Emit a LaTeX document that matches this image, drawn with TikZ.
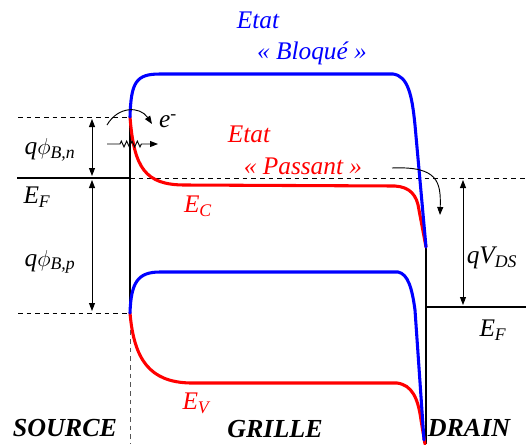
\documentclass[tikz,border=0pt]{standalone}
\usepackage{fontspec}
\setmainfont{Liberation Serif}
\usetikzlibrary{arrows.meta,decorations.pathmorphing}
\definecolor{band-blue}{HTML}{0000FF}
\definecolor{band-red}{HTML}{FF0000}
\definecolor{guide-grey}{HTML}{555555}

\begin{document}
\begin{tikzpicture}[x=0.75pt, y=-0.75pt,
    band/.style={line width=2.3pt, line cap=round},
    level/.style={line width=2.2pt},
    guide/.style={dash pattern=on 3.5pt off 3pt, line width=0.7pt},
    tip/.style={-{Triangle[length=6pt,width=4.5pt]}, line width=0.7pt},
    span/.style={{Triangle[length=6pt,width=4.5pt]}-{Triangle[length=6pt,width=4.5pt]}, line width=0.7pt},
    lbl/.style={font=\fontsize{19}{22}\selectfont\itshape},
    region/.style={font=\fontsize{19.5}{22}\selectfont\bfseries\itshape}]
  \useasboundingbox (0,0) rectangle (526,444);
  % key points of the junctions
  \coordinate (top) at (130,117);
  \coordinate (fermi) at (130,178);
  \coordinate (bot) at (130,313);
  \coordinate (dtop) at (426,247);
  \coordinate (dfermi) at (426,307);
  \coordinate (dbot) at (426,444);

  % guide lines
  \draw[guide] (18,117) -- (top);
  \draw[guide] (18,313) -- (bot);
  \draw[guide] (fermi) -- (526,178);
  \draw[guide, guide-grey] (bot) -- (130,444);

  % Fermi levels and metal walls
  \draw[level] (17,178) -- (fermi);
  \draw[level] (dfermi) -- (526,307);
  \draw[level] (top) -- (bot);
  \draw[level] (dtop) -- (dbot);

  % Etat Passant
  \draw[band, band-red] (top) .. controls (134,168) and (145,185) .. (185,185)
    -- (395,186) .. controls (410,187) and (417,195) .. (419,210) -- (dtop);
  \draw[band, band-red] (bot) .. controls (134,360) and (150,382) .. (190,383)
    -- (397,383) .. controls (412,385) and (418,398) .. (421,420) -- (425,444);
  % Etat Bloque
  \draw[band, band-blue] (top) .. controls (131,82) and (136,74) .. (160,74)
    -- (393,74) .. controls (408,76) and (412,95) .. (415,125) -- (dtop);
  \draw[band, band-blue] (bot) .. controls (131,282) and (138,272) .. (160,272)
    -- (398,272) .. controls (408,274) and (412,288) .. (415,310) -- (424,440);

  % barrier heights
  \coordinate (phin1) at (92,119);
  \coordinate (phin2) at (92,176);
  \coordinate (phip1) at (92,180);
  \coordinate (phip2) at (92,311);
  \coordinate (vds1) at (463,180);
  \coordinate (vds2) at (463,305);
  \draw[span] (phin1) -- (phin2);
  \draw[span] (phip1) -- (phip2);
  \draw[span] (vds1) -- (vds2);

  % electron paths
  \coordinate (th1) at (107,125);
  \coordinate (th2) at (152,124);
  \draw[tip] (th1) .. controls (118,106) and (140,106) .. (th2);
  \coordinate (tu1) at (107,144);
  \coordinate (tu2) at (120,144);
  \coordinate (tu3) at (143,144);
  \coordinate (tu4) at (158,144);
  \draw[tip, decoration={zigzag, segment length=4pt, amplitude=2.2pt}]
    (tu1) -- (tu2) decorate {-- (tu3)} -- (tu4);
  \coordinate (dr1) at (392,168);
  \coordinate (dr2) at (440,215);
  \draw[tip] (dr1) .. controls (438,166) and (441,182) .. (dr2);

  % labels
  \node[lbl] (phin) at (50,150) {q$\phi$\textsubscript{B,n}};
  \node[lbl] (efl) at (37,197) {E\textsubscript{F}};
  \node[lbl] (phip) at (50,262) {q$\phi$\textsubscript{B,p}};
  \node[lbl] (vds) at (492,258) {qV\textsubscript{DS}};
  \node[lbl] (efr) at (493,330) {E\textsubscript{F}};
  \node[lbl] (elec) at (168,121) {e\textsuperscript{-}};
  \node[lbl, band-red] (ec) at (198,206) {E\textsubscript{C}};
  \node[lbl, band-red] (ev) at (196,403) {E\textsubscript{V}};
  \node[lbl, band-blue] (bl1) at (258,20) {Etat};
  \node[lbl, band-blue] (bl2) at (312,53) {«~Bloqué~»};
  \node[lbl, band-red] (pa1) at (249,134) {Etat};
  \node[lbl, band-red] (pa2) at (303,166) {«~Passant~»};
  \node[region] (src) at (65,428) {SOURCE};
  \node[region] (gr) at (275,429) {GRILLE};
  \node[region] (dr) at (469,428) {DRAIN};
\end{tikzpicture}
\end{document}
